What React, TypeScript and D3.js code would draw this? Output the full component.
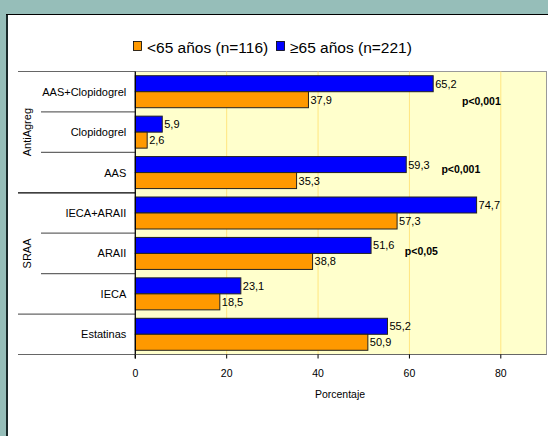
import React from "react";
import * as d3 from "d3";

const categories = ["AAS+Clopidogrel", "Clopidogrel", "AAS", "IECA+ARAII", "ARAII", "IECA", "Estatinas"];
const olderValues = [65.2, 5.9, 59.3, 74.7, 51.6, 23.1, 55.2];
const youngerValues = [37.9, 2.6, 35.3, 57.3, 38.8, 18.5, 50.9];
const groups = [
  { label: "AntiAgreg", from: 0, to: 3 },
  { label: "SRAA", from: 3, to: 6 },
];
const pValues = [
  { cat: "AAS+Clopidogrel", text: "p<0,001", x: 71.5, pos: 0.72 },
  { cat: "AAS", text: "p<0,001", x: 67, pos: 0.4 },
  { cat: "ARAII", text: "p<0,05", x: 59, pos: 0.45 },
];
const xTicks = [0, 20, 40, 60, 80];
const legendLabels = ["<65 años (n=116)", "≥65 años (n=221)"];

const W = 548, H = 436;
const left = 135.3, right = 546.5, top = 71.5, bottom = 354.5;

export default function App() {
  const x = d3.scaleLinear().domain([0, 90]).range([left, right]);
  const y = d3.scaleBand().domain(categories).range([top, bottom]).paddingInner(0).paddingOuter(0);
  const bw = y.bandwidth();
  const barH = 16;
  const font = "'Liberation Sans', Arial, sans-serif";
  const fmt = (v: number) => v.toFixed(1).replace(".", ",");

  return (
    <div style={{ position: "fixed", left: 0, top: 0 }}>
      <svg width={W} height={H} style={{ display: "block" }} fontFamily={font}>
        <rect x={0} y={0} width={W} height={H} fill="#96BEB9" />
        <rect x={6} y={14} width={W} height={H} fill="#FFFFFF" />
        <line x1={7} y1={14} x2={7} y2={H} stroke="#1a2a2a" strokeWidth={2} />
        <line x1={6} y1={14.5} x2={W} y2={14.5} stroke="#000" strokeWidth={1} />

        {/* legend */}
        <rect x={133.5} y={41.5} width={8} height={9} fill="#FF9900" stroke="#000" strokeWidth={0.8} />
        <text x={147} y={52.5} fontSize={15.5} fill="#000">{legendLabels[0]}</text>
        <rect x={276.5} y={41.5} width={8} height={9} fill="#0000FF" stroke="#000" strokeWidth={0.8} />
        <text x={290} y={52.5} fontSize={15.5} fill="#000">{legendLabels[1]}</text>

        {/* plot area */}
        <rect x={left} y={top} width={right - left} height={bottom - top} fill="#FFFFCC" stroke="#999" strokeWidth={1} />
        {xTicks.filter((t) => t > 0).map((t) => (
          <line key={t} x1={x(t)} x2={x(t)} y1={top} y2={bottom} stroke="#FFE680" strokeWidth={1} />
        ))}

        {categories.map((c, i) => {
          const y0 = (y(c) as number) + (bw - 2 * barH) / 2;
          return (
            <g key={c}>
              <rect x={x(0)} y={y0} width={x(olderValues[i]) - x(0)} height={barH} fill="#0000FF" stroke="#222" strokeWidth={1} />
              <rect x={x(0)} y={y0 + barH} width={x(youngerValues[i]) - x(0)} height={barH} fill="#FF9900" stroke="#222" strokeWidth={1} />
              <text x={x(olderValues[i]) + 2} y={y0 + barH / 2 + 4} fontSize={11} fill="#000">{fmt(olderValues[i])}</text>
              <text x={x(youngerValues[i]) + 2} y={y0 + barH * 1.5 + 4} fontSize={11} fill="#000">{fmt(youngerValues[i])}</text>
              <text x={left - 9} y={(y(c) as number) + bw / 2 + 4} fontSize={11} textAnchor="end" fill="#000">{c}</text>
            </g>
          );
        })}

        {pValues.map((p) => (
          <text key={p.cat} x={x(p.x)} y={(y(p.cat) as number) + bw * p.pos + 4} fontSize={10.5} fontWeight="bold" fill="#000">{p.text}</text>
        ))}

        {/* category separators */}
        {d3.range(categories.length + 1).map((i) => {
          const yy = top + i * bw;
          const isGroupEdge = i === 0 || i === 3 || i === 6 || i === 7;
          return (
            <line key={i} x1={isGroupEdge ? 18 : 41} x2={left + (isGroupEdge ? 0 : 0)} y1={yy} y2={yy}
              stroke={i === 3 ? "#000" : "#666"} strokeWidth={1.2} />
          );
        })}
        {groups.map((g) => {
          const cy = top + ((g.from + g.to) / 2) * bw;
          return (
            <text key={g.label} transform={`translate(31,${cy}) rotate(-90)`} fontSize={11} textAnchor="middle" fill="#000">{g.label}</text>
          );
        })}

        {/* axes */}
        <line x1={left} x2={left} y1={top} y2={bottom + 4} stroke="#000" strokeWidth={1.2} />
        <line x1={left} x2={right} y1={bottom} y2={bottom} stroke="#666" strokeWidth={1} />
        {xTicks.map((t) => (
          <g key={t}>
            <line x1={x(t)} x2={x(t)} y1={bottom} y2={bottom + 4} stroke="#000" strokeWidth={1} />
            <text x={x(t)} y={377} fontSize={10.5} textAnchor="middle" fill="#000">{t}</text>
          </g>
        ))}
        <text x={340} y={398} fontSize={10.5} textAnchor="middle" fill="#000">Porcentaje</text>
      </svg>
    </div>
  );
}
